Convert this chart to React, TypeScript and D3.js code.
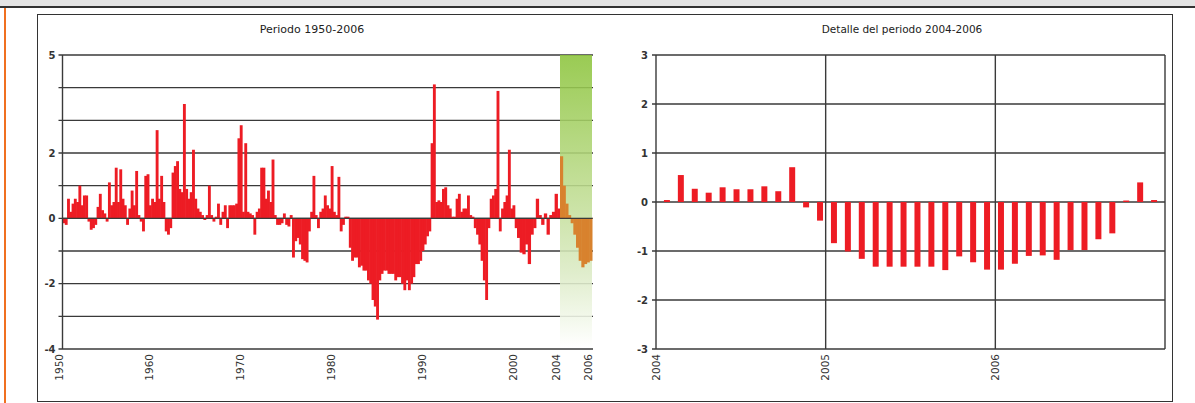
import * as d3 from 'd3'
import { useEffect, useRef } from 'react'

// quarterly values 1950 Q1 .. 2003 Q4
const quarterly1950_2003 = [
  -0.15, -0.2, 0.6, 0.2, 0.45, 0.6, 0.5, 1.0, 0.4, 0.7,
  0.7, -0.1, -0.35, -0.3, -0.2, 0.35, 0.75, 0.25, 0.15, -0.1,
  1.1, 0.4, 0.5, 1.55, 0.5, 1.5, 0.6, 0.4, -0.2, 0.3,
  0.85, 0.4, 1.45, 0.1, -0.1, -0.4, 1.3, 1.35, 0.4, 0.6,
  0.5, 2.7, 0.6, 1.3, 0.5, -0.4, -0.5, -0.3, 1.4, 1.6,
  1.75, 0.9, 0.8, 3.5, 0.9, 0.6, 0.8, 2.1, 0.6, 0.3,
  0.2, 0.1, -0.05, 0.1, 1.0, 0.1, -0.1, 0.05, 0.45, -0.2,
  0.2, 0.4, -0.3, 0.4, 0.4, 0.4, 0.45, 2.45, 2.85, 0.2,
  2.3, 0.2, 0.15, 0.1, -0.5, 0.2, 0.3, 1.55, 1.55, 0.6,
  0.85, 0.5, 1.8, 0.1, -0.2, -0.2, -0.15, 0.15, -0.2, -0.25,
  0.1, -1.2, -0.7, -0.6, -0.8, -1.25, -1.3, -1.35, -0.4, 0.2,
  1.3, 0.1, -0.3, 0.2, 0.3, 0.7, 0.4, 0.3, 1.6, 0.2,
  0.1, 1.27, -0.4, -0.2, 0.05, 0.05, -0.9, -1.3, -1.2, -1.2,
  -1.5, -1.45, -1.6, -1.6, -1.9, -2.0, -2.5, -2.7, -3.1, -1.9,
  -1.7, -1.6, -1.6, -1.7, -1.7, -1.7, -1.9, -1.8, -1.8, -2.0,
  -2.2, -1.9, -2.2, -2.0, -1.8, -1.4, -1.4, -1.3, -1.0, -0.8,
  -0.55, -0.4, 2.3, 4.1, 0.5, 0.55, 0.5, 0.9, 0.95, 0.4,
  0.3, 0.05, 0.05, 0.6, 0.75, 0.2, 0.3, 0.3, 0.7, 0.1,
  0.05, -0.3, -0.5, -0.8, -1.3, -1.9, -2.5, -0.3, 0.6, 0.7,
  0.9, 3.9, -0.4, 0.3, 0.5, 0.7, 2.1, 0.3, 0.4, -0.3,
  -0.6, -1.05, -1.1, -0.8, -1.4, -0.5, -0.3, 0.6, 0.1, -0.2,
  0.15, -0.5, 0.1, 0.2, 0.75, 0.3,
]

// highlighted stretch 2004-2006 in the long chart (12 steps)
const highlight2004_2006 = [1.9, 1.0, 0.45, 0.1, -0.15, -0.5, -0.9, -1.3, -1.5, -1.4, -1.35, -1.3]

// monthly detail Jan 2004 .. Dec 2006
const monthly2004_2006 = [
  0.04, 0.55, 0.27, 0.19, 0.3, 0.26, 0.26, 0.32, 0.22, 0.71, -0.11, -0.38,
  -0.84, -1.01, -1.16, -1.32, -1.32, -1.32, -1.32, -1.32, -1.39, -1.11, -1.23, -1.38,
  -1.38, -1.26, -1.1, -1.09, -1.18, -0.98, -0.98, -0.76, -0.64, 0.03, 0.4, 0.04,
]

const leftXTicks = [1950, 1960, 1970, 1980, 1990, 2000, 2004, 2006]
const leftYGrid = [-4, -3, -2, -1, 0, 1, 2, 3, 4, 5]
const leftYLabels = [5, 2, 0, -2, -4]
const rightXTicks = [2004, 2005, 2006]
const rightYTicks = [-3, -2, -1, 0, 1, 2, 3]

const RED = '#ed1c24'
const GRID = '#3a3a3a'
const FONT = 'DejaVu Sans, sans-serif'

export default function App() {
  const ref = useRef<SVGSVGElement>(null)

  useEffect(() => {
    const svg = d3.select(ref.current)
    svg.selectAll('*').remove()

    // page decoration
    svg.append('rect').attr('x', 0).attr('y', 0).attr('width', 1195).attr('height', 6).attr('fill', '#e4e4e4')
    svg.append('line').attr('x1', 0).attr('x2', 1195).attr('y1', 7).attr('y2', 7).attr('stroke', '#333').attr('stroke-width', 2)
    svg.append('line').attr('x1', 5).attr('x2', 5).attr('y1', 8).attr('y2', 403).attr('stroke', '#f07020').attr('stroke-width', 2)
    svg.append('rect').attr('x', 37.5).attr('y', 14.5).attr('width', 1135).attr('height', 387)
      .attr('fill', 'white').attr('stroke', '#333')

    const defs = svg.append('defs')
    const grad = defs.append('linearGradient').attr('id', 'greenBand')
      .attr('x1', 0).attr('x2', 0).attr('y1', 0).attr('y2', 1)
    grad.append('stop').attr('offset', '0%').attr('stop-color', '#8cc43c')
    grad.append('stop').attr('offset', '45%').attr('stop-color', '#bcdb8c')
    grad.append('stop').attr('offset', '75%').attr('stop-color', '#dcebc6')
    grad.append('stop').attr('offset', '100%').attr('stop-color', '#ffffff')

    // ---------- left chart ----------
    const x = d3.scaleLinear().domain([1950, 2000, 2004, 2006]).range([62.5, 517, 560, 592])
    const y = d3.scaleLinear().domain([-4, 5]).range([349, 55])
    const left = svg.append('g')

    left.append('text').attr('x', 312).attr('y', 33).attr('text-anchor', 'middle')
      .attr('font-family', FONT).attr('font-size', 11).attr('fill', '#222').text('Periodo 1950-2006')

    left.selectAll('line.grid').data(leftYGrid).join('line').attr('class', 'grid')
      .attr('x1', x(1950) - 4).attr('x2', x(2006) + 1)
      .attr('y1', d => y(d)).attr('y2', d => y(d))
      .attr('stroke', GRID).attr('stroke-width', 1.4)

    // bars overlap a little so no white seams appear between quarters
    left.selectAll('rect.q').data(quarterly1950_2003).join('rect').attr('class', 'q')
      .attr('x', (d, i) => x(1950 + i / 4))
      .attr('width', (d, i) => x(1950 + (i + 1) / 4) - x(1950 + i / 4) + 0.6)
      .attr('y', d => y(Math.max(0, d)))
      .attr('height', d => Math.abs(y(d) - y(0)))
      .attr('fill', RED)

    left.append('rect').attr('x', x(2004)).attr('y', y(5)).attr('width', x(2006) - x(2004)).attr('height', 292)
      .attr('fill', 'url(#greenBand)').attr('opacity', 0.88)

    const step = (2006 - 2004) / highlight2004_2006.length
    left.selectAll('rect.h').data(highlight2004_2006).join('rect').attr('class', 'h')
      .attr('x', (d, i) => x(2004 + i * step))
      .attr('width', (d, i) => x(2004 + (i + 1) * step) - x(2004 + i * step) + 0.5)
      .attr('y', d => y(Math.max(0, d)))
      .attr('height', d => Math.abs(y(d) - y(0)))
      .attr('fill', '#d8822e')

    left.append('line').attr('x1', x(1950)).attr('x2', x(2006)).attr('y1', y(0)).attr('y2', y(0))
      .attr('stroke', GRID).attr('stroke-width', 1.4)
    left.append('line').attr('x1', x(1950)).attr('x2', x(1950)).attr('y1', y(5)).attr('y2', y(-4))
      .attr('stroke', GRID).attr('stroke-width', 1.4)

    left.selectAll('text.yl').data(leftYLabels).join('text').attr('class', 'yl')
      .attr('x', x(1950) - 7).attr('y', d => y(d) + 3.5).attr('text-anchor', 'end')
      .attr('font-family', FONT).attr('font-size', 10).attr('font-weight', 'bold').attr('fill', '#333')
      .text(d => d)

    left.selectAll('text.xl').data(leftXTicks).join('text').attr('class', 'xl')
      .attr('transform', d => `translate(${x(d)},${y(-4) + 5}) rotate(-90)`)
      .attr('text-anchor', 'end')
      .attr('font-family', FONT).attr('font-size', 10.5).attr('fill', '#333')
      .text(d => d)

    // ---------- right chart ----------
    const xr = d3.scaleLinear().domain([2004, 2007]).range([656, 1165])
    const band = d3.scaleBand<number>().domain(d3.range(monthly2004_2006.length)).range([656, 1165]).padding(0.57)
    const yr = d3.scaleLinear().domain([-3, 3]).range([349, 55])
    const right = svg.append('g')

    right.append('text').attr('x', 902).attr('y', 33).attr('text-anchor', 'middle')
      .attr('font-family', FONT).attr('font-size', 10.5).attr('fill', '#222').text('Detalle del periodo 2004-2006')

    right.selectAll('line.hg').data(rightYTicks).join('line').attr('class', 'hg')
      .attr('x1', xr(2004) - 4).attr('x2', xr(2007))
      .attr('y1', d => yr(d)).attr('y2', d => yr(d))
      .attr('stroke', GRID).attr('stroke-width', 1.4)

    right.selectAll('line.vg').data([2004, 2005, 2006, 2007]).join('line').attr('class', 'vg')
      .attr('x1', d => xr(d)).attr('x2', d => xr(d))
      .attr('y1', yr(3)).attr('y2', yr(-3))
      .attr('stroke', GRID).attr('stroke-width', 1.4)

    right.selectAll('rect.m').data(monthly2004_2006).join('rect').attr('class', 'm')
      .attr('x', (d, i) => band(i)!)
      .attr('width', band.bandwidth())
      .attr('y', d => yr(Math.max(0, d)))
      .attr('height', d => Math.abs(yr(d) - yr(0)))
      .attr('fill', RED)

    right.selectAll('text.yl').data(rightYTicks).join('text').attr('class', 'yl')
      .attr('x', xr(2004) - 8).attr('y', d => yr(d) + 3.5).attr('text-anchor', 'end')
      .attr('font-family', FONT).attr('font-size', 10).attr('font-weight', 'bold').attr('fill', '#333')
      .text(d => d)

    right.selectAll('text.xl').data(rightXTicks).join('text').attr('class', 'xl')
      .attr('transform', d => `translate(${xr(d)},${yr(-3) + 5}) rotate(-90)`)
      .attr('text-anchor', 'end').attr('dy', '0.35em')
      .attr('font-family', FONT).attr('font-size', 10.5).attr('fill', '#333')
      .text(d => d)
  }, [])

  return (
    <svg ref={ref} width={1195} height={403}
      style={{ position: 'absolute', left: 0, top: 0, background: 'white' }} />
  )
}
